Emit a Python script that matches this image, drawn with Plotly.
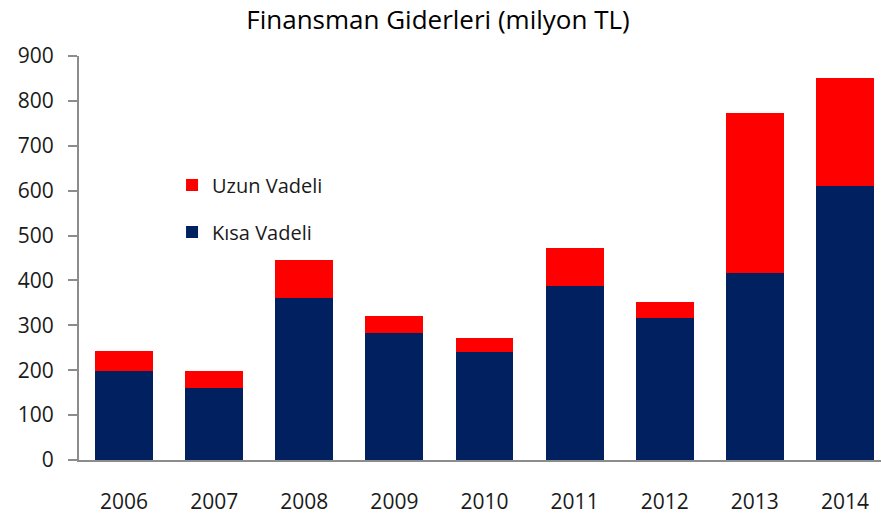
import plotly.graph_objects as go

years = ["2006", "2007", "2008", "2009", "2010", "2011", "2012", "2013", "2014"]
kisa_vadeli = [199, 161, 360, 283, 240, 388, 316, 417, 610]
uzun_vadeli = [44, 38, 85, 37, 32, 85, 37, 355, 242]
y_ticks = [0, 100, 200, 300, 400, 500, 600, 700, 800, 900]

FONT = "Open Sans"
fig = go.Figure()
fig.add_trace(go.Bar(x=years, y=kisa_vadeli, name="Kısa Vadeli", marker=dict(color="#002060", line=dict(width=0)),
                     legendgroup="k", legendrank=2))
fig.add_trace(go.Bar(x=years, y=uzun_vadeli, name="Uzun Vadeli", marker=dict(color="#FF0000", line=dict(width=0)),
                     legendgroup="u", legendrank=1))

fig.update_layout(
    width=881, height=515,
    barmode="stack", bargap=0.357,
    margin=dict(l=79, r=0, t=56, b=52),
    plot_bgcolor="white", paper_bgcolor="white",
    font=dict(family=FONT, size=21, color="#1a1a1a"),
    title=dict(text="Finansman Giderleri (milyon TL)", x=438/881, xanchor="center", y=0.962, yanchor="middle",
               font=dict(family=FONT, size=26, color="#000000")),
    legend=dict(x=0.116, y=0.729, xanchor="left", yanchor="top", traceorder="grouped",
                tracegroupgap=18, bgcolor="rgba(0,0,0,0)", font=dict(family=FONT, size=20, color="#1a1a1a")),
    showlegend=True,
)
fig.update_xaxes(range=[-0.5, 8.4], showline=True, linecolor="#8c8c8c", linewidth=2,
                 ticks="outside", ticklen=22, tickcolor="rgba(0,0,0,0)", showgrid=False,
                 tickfont=dict(family=FONT, size=21, color="#1a1a1a"))
fig.update_yaxes(range=[0, 900], tickvals=y_ticks, showline=True, linecolor="#8c8c8c", linewidth=2,
                 ticks="outside", ticklen=9, tickcolor="#8c8c8c", tickwidth=2, showgrid=False, zeroline=False,
                 ticklabelstandoff=10, tickfont=dict(family=FONT, size=21, color="#1a1a1a"))

fig.write_html("out.html", config={"displayModeBar": False}, post_script="document.body.style.margin='0';")
